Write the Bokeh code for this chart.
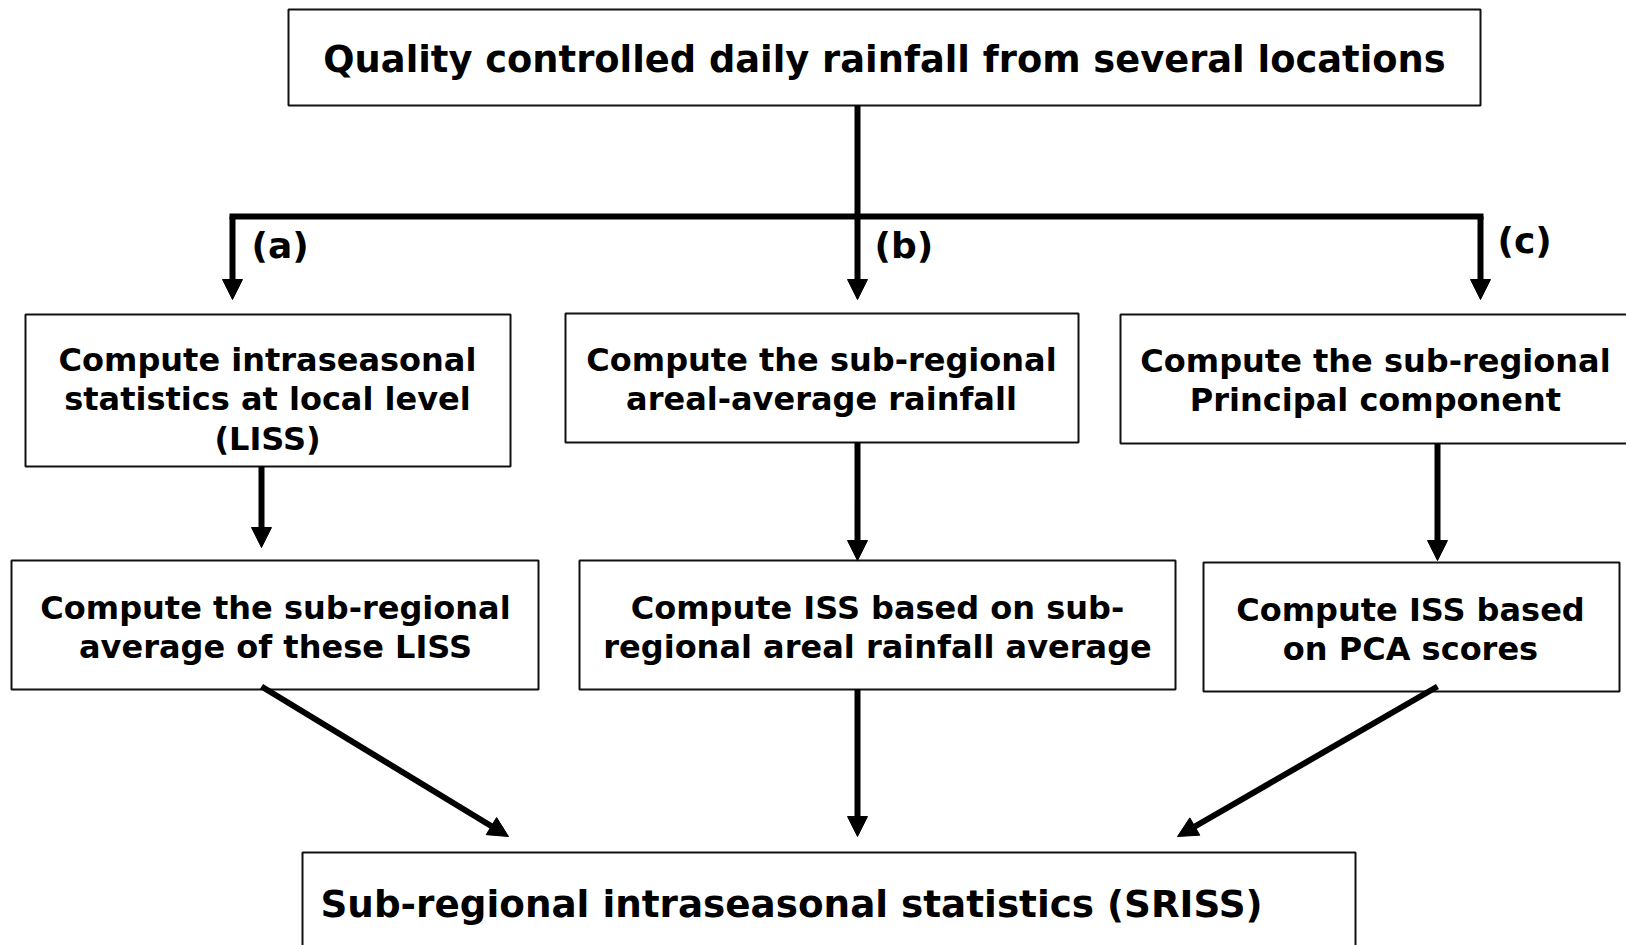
from bokeh.plotting import figure
from bokeh.models import Range1d, Arrow, NormalHead
from bokeh.core.properties import value
from bokeh.embed import file_html
from bokeh.resources import INLINE

# ---- content ----
title_text = "Quality controlled daily rainfall from several locations"
box_texts = [
    "Compute intraseasonal\nstatistics at local level\n(LISS)",
    "Compute the sub-regional\nareal-average rainfall",
    "Compute the sub-regional\nPrincipal component",
    "Compute the sub-regional\naverage of these LISS",
    "Compute ISS based on sub-\nregional areal rainfall average",
    "Compute ISS based\non PCA scores",
]
final_text = "Sub-regional intraseasonal statistics (SRISS)"
branch_labels = ["(a)", "(b)", "(c)"]

# ---- layout (screen pixel coordinates) ----
title_box = (288, 1480, 9, 105)
title_xy = (884, 59)

box_left = [25, 565, 1120, 11, 579, 1203]
box_right = [510, 1078, 1640, 538, 1175, 1619]
box_top = [314, 313, 314, 560, 560, 562]
box_bottom = [466, 442, 443, 689, 689, 691]
text_x = [267, 821, 1375, 275, 877, 1410]
text_y = [399, 379, 380, 627, 627, 629]

final_box = (302, 1355, 852, 990)
final_xy = (320, 903)

label_x = [251, 874, 1497]
label_y = [245, 245, 240]

W, H = 1626, 945
p = figure(width=W, height=H, output_backend="svg", toolbar_location=None,
           x_range=Range1d(0, W), y_range=Range1d(H, 0),
           min_border=0, outline_line_color=None)
p.axis.visible = False
p.grid.visible = False
p.background_fill_color = "white"
p.border_fill_color = "white"

# boxes
all_l = [title_box[0]] + box_left + [final_box[0]]
all_r = [title_box[1]] + box_right + [final_box[1]]
all_t = [title_box[2]] + box_top + [final_box[2]]
all_b = [title_box[3]] + box_bottom + [final_box[3]]
p.quad(left=all_l, right=all_r, top=all_t, bottom=all_b,
       fill_color="white", line_color="#111111", line_width=2)

FONT = value("DejaVu Sans")
p.text(x=[title_xy[0]], y=[title_xy[1]], text=[title_text], text_font=FONT,
       text_font_style="bold", text_font_size="36.8px", text_align="center",
       text_baseline="middle", text_color="black")
p.text(x=text_x, y=text_y, text=box_texts, text_font=FONT, text_font_style="bold",
       text_font_size="32px", text_align="center", text_baseline="middle",
       text_line_height=1.03, text_color="black")
p.text(x=[final_xy[0]], y=[final_xy[1]], text=[final_text],
       text_font=FONT, text_font_style="bold", text_font_size="37.3px",
       text_align="left", text_baseline="middle", text_color="black")
p.text(x=label_x, y=label_y, text=branch_labels, text_font=FONT, text_font_style="bold",
       text_font_size="36px", text_align="left", text_baseline="middle", text_color="black")

# connector lines
LW = 6
p.segment(x0=[857, 229], y0=[105, 216], x1=[857, 1483], y1=[216, 216],
          line_color="black", line_width=LW, line_cap="butt")

arrows = [
    (232, 216, 232, 299),
    (857, 216, 857, 299),
    (1480, 216, 1480, 299),
    (261, 466, 261, 547),
    (857, 442, 857, 560),
    (1437, 443, 1437, 560),
    (261, 686, 508, 836),
    (857, 689, 857, 836),
    (1437, 686, 1177, 836),
]
for x0, y0, x1, y1 in arrows:
    p.add_layout(Arrow(x_start=x0, y_start=y0, x_end=x1, y_end=y1,
                       line_color="black", line_width=LW,
                       end=NormalHead(size=20, fill_color="black", line_color="black", line_width=1)))

open("out.html", "w").write(file_html(p, INLINE))
